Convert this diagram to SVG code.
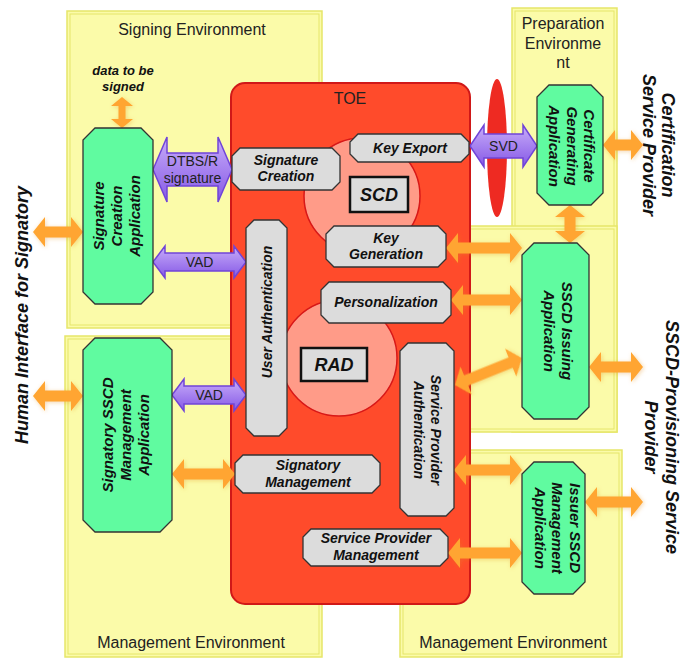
<svg xmlns="http://www.w3.org/2000/svg" width="681" height="659" viewBox="0 0 681 659">
<style>
.env{fill:#fbfba9;stroke:#e6e66a;stroke-width:1.5}
.envi{fill:none;stroke:#e6e66a;stroke-width:1}
.envt{font-family:"Liberation Sans",Arial,sans-serif;font-size:16px;fill:#222;text-anchor:middle}
.gray{fill:#dcdcdc;stroke:#333;stroke-width:1.3}
.green{fill:#60fba0;stroke:#333;stroke-width:1.3}
.nt{font-family:"Liberation Sans",Arial,sans-serif;font-size:14px;font-weight:bold;font-style:italic;fill:#111;text-anchor:middle}
.gt{font-family:"Liberation Sans",Arial,sans-serif;font-size:15px;font-weight:bold;font-style:italic;fill:#111;text-anchor:middle}
.ext{font-family:"Liberation Sans",Arial,sans-serif;font-size:18px;font-weight:bold;font-style:italic;fill:#111;text-anchor:middle}
.oa{fill:#ffa530;filter:url(#glow)}
.pa{fill:url(#pg);stroke:#7044d8;stroke-width:1.5}
.pt{font-family:"Liberation Sans",Arial,sans-serif;font-size:14px;fill:#222;text-anchor:middle}
.circ{fill:#ff9b88;stroke:#d81818;stroke-width:1.5}
.box{fill:#dcdcdc;stroke:#111;stroke-width:2.5}
</style>
<defs>
<linearGradient id="pg" x1="0" y1="0" x2="0" y2="1">
<stop offset="0" stop-color="#c8adf9"/>
<stop offset="1" stop-color="#8558e6"/>
</linearGradient>
<filter id="glow" x="-30%" y="-30%" width="160%" height="160%">
<feGaussianBlur in="SourceAlpha" stdDeviation="2"/>
<feOffset dx="1" dy="1" result="b"/>
<feFlood flood-color="#e08a20" flood-opacity="0.35"/>
<feComposite in2="b" operator="in"/>
<feMerge><feMergeNode/><feMergeNode in="SourceGraphic"/></feMerge>
</filter>
</defs>

<!-- environments -->
<g id="env-signing">
<rect class="env" x="67" y="11" width="255" height="317"/>
<rect class="envi" x="70" y="14" width="249" height="311"/>
<text class="envt" x="192" y="35">Signing Environment</text>
</g>
<g id="env-mgmt-left">
<rect class="env" x="65" y="336" width="257" height="321"/>
<rect class="envi" x="68" y="339" width="251" height="315"/>
<text class="envt" x="191" y="648">Management Environment</text>
</g>
<g id="env-mgmt-right">
<rect class="env" x="400" y="450" width="222" height="207"/>
<rect class="envi" x="403" y="453" width="216" height="201"/>
<text class="envt" x="513" y="648">Management Environment</text>
</g>
<g id="env-prep">
<rect class="env" x="512" y="8" width="105" height="424"/>
<rect class="envi" x="515" y="11" width="99" height="418"/>
<rect class="env" x="455" y="226" width="162" height="206"/>
<rect class="envi" x="458" y="229" width="156" height="200"/>
<text class="envt" x="563" y="29"><tspan x="563">Preparation</tspan><tspan x="563" dy="19.5">Environme</tspan><tspan x="563" dy="19.5">nt</tspan></text>
</g>

<!-- TOE -->
<g id="toe">
<rect x="231" y="83" width="239" height="521" rx="14" fill="#ff4b2b" stroke="#d01818" stroke-width="2"/>
<text class="envt" x="350" y="104">TOE</text>
<circle class="circ" cx="362" cy="196" r="58"/>
<circle class="circ" cx="339" cy="358" r="58"/>
</g>
<g id="scd">
<rect class="box" x="350" y="177" width="58" height="35"/>
<text class="nt" x="379" y="201" style="font-size:18px">SCD</text>
</g>
<g id="rad">
<rect class="box" x="301" y="348" width="66" height="33"/>
<text class="nt" x="334" y="371" style="font-size:18px">RAD</text>
</g>
<ellipse cx="497" cy="148" rx="10" ry="69" fill="#ee2a22"/>

<!-- connectors -->
<g id="connectors">
<polygon class="oa" points="122,97 133,106 125.5,106 125.5,119 133,119 122,128 111,119 118.5,119 118.5,106 111,106"/>
<polygon class="oa" points="33,232 45,217 45,226.5 71,226.5 71,217 83,232 71,247 71,237.5 45,237.5 45,247"/>
<polygon class="oa" points="33,396 45,381 45,390.5 71,390.5 71,381 83,396 71,411 71,401.5 45,401.5 45,411"/>
<polygon class="oa" points="172,474 184,459 184,468.5 223,468.5 223,459 235,474 223,489 223,479.5 184,479.5 184,489"/>
<polygon class="oa" points="446,248 458,233 458,242.5 510,242.5 510,233 522,248 510,263 510,253.5 458,253.5 458,263"/>
<polygon class="oa" points="451,300 463,285 463,294.5 510,294.5 510,285 522,300 510,315 510,305.5 463,305.5 463,315"/>
<polygon class="oa" transform="translate(455,385) rotate(-21.95)" points="0,0 12,-15 12,-5.5 60,-5.5 60,-15 72,0 60,15 60,5.5 12,5.5 12,15"/>
<polygon class="oa" points="454,470 466,455 466,464.5 510,464.5 510,455 522,470 510,485 510,475.5 466,475.5 466,485"/>
<polygon class="oa" points="448,553 460,538 460,547.5 510,547.5 510,538 522,553 510,568 510,558.5 460,558.5 460,568"/>
<polygon class="oa" points="570,205 585,217 575.5,217 575.5,231 585,231 570,243 555,231 564.5,231 564.5,217 555,217"/>
<polygon class="oa" points="603,145 615,130 615,139.5 631,139.5 631,130 643,145 631,160 631,150.5 615,150.5 615,160"/>
<polygon class="oa" points="589,367 601,352 601,361.5 631,361.5 631,352 643,367 631,382 631,372.5 601,372.5 601,382"/>
<polygon class="oa" points="585,502 597,487 597,496.5 631,496.5 631,487 643,502 631,517 631,507.5 597,507.5 597,517"/>
<polygon class="pa" points="153,169.5 167,137 167,153 218,153 218,137 232,169.5 218,202 218,186 167,186 167,202"/>
<text class="pt" x="192.5" y="166"><tspan x="192.5">DTBS/R</tspan><tspan x="192.5" dy="17">signature</tspan></text>
<polygon class="pa" points="153,262 165,246 165,253 234,253 234,246 246,262 234,278 234,271 165,271 165,278"/>
<text class="pt" x="199.5" y="267">VAD</text>
<polygon class="pa" points="172,395 184,379 184,386 234,386 234,379 246,395 234,411 234,404 184,404 184,411"/>
<text class="pt" x="209" y="400">VAD</text>
<polygon class="pa" points="470,146 484,125 484,134 523,134 523,125 537,146 523,167 523,158 484,158 484,167"/>
<text class="pt" x="503.5" y="151">SVD</text>
</g>
<text class="nt" x="123" y="75" style="font-size:13px"><tspan x="123">data to be</tspan><tspan x="123" dy="16">signed</tspan></text>

<!-- gray nodes -->
<g id="signature-creation">
<path class="gray" d="M240,148 H332 L340,156 V182 L332,190 H240 L232,182 V156 Z"/>
<text class="nt" x="286" y="165"><tspan x="286">Signature</tspan><tspan x="286" dy="16">Creation</tspan></text>
</g>
<g id="key-export">
<path class="gray" d="M358,134 H461 L469,142 V154 L461,162 H358 L350,154 V142 Z"/>
<text class="nt" x="410" y="153">Key Export</text>
</g>
<g id="key-generation">
<path class="gray" d="M334,226 H438 L446,234 V259 L438,267 H334 L326,259 V234 Z"/>
<text class="nt" x="386" y="243"><tspan x="386">Key</tspan><tspan x="386" dy="16">Generation</tspan></text>
</g>
<g id="personalization">
<path class="gray" d="M329,282 H443 L451,290 V315 L443,323 H329 L321,315 V290 Z"/>
<text class="nt" x="386" y="307">Personalization</text>
</g>
<g id="user-authentication">
<path class="gray" d="M254,220 H279 L287,228 V428 L279,436 H254 L246,428 V228 Z"/>
<text class="nt" transform="translate(271.5,312) rotate(-90)" x="0" y="0">User Authentication</text>
</g>
<g id="service-provider-authentication">
<path class="gray" d="M408,343 H446 L454,351 V508 L446,516 H408 L400,508 V351 Z"/>
<text class="nt" transform="translate(431,430) rotate(90)" x="0" y="0"><tspan x="0">Service Provider</tspan><tspan x="0" dy="17">Authentication</tspan></text>
</g>
<g id="signatory-management">
<path class="gray" d="M243,455 H372 L380,463 V485 L372,493 H243 L235,485 V463 Z"/>
<text class="nt" x="308" y="470"><tspan x="308">Signatory</tspan><tspan x="308" dy="17">Management</tspan></text>
</g>
<g id="service-provider-management">
<path class="gray" d="M311,529 H440 L448,537 V558 L440,566 H311 L303,558 V537 Z"/>
<text class="nt" x="376" y="543"><tspan x="376">Service Provider</tspan><tspan x="376" dy="17">Management</tspan></text>
</g>

<!-- green nodes -->
<g id="signature-creation-application">
<path class="green" d="M95,128 H141 L153,140 V292 L141,304 H95 L83,292 V140 Z"/>
<text class="gt" transform="translate(104,216) rotate(-90)" x="0" y="0"><tspan x="0">Signature</tspan><tspan x="0" dy="18">Creation</tspan><tspan x="0" dy="18">Application</tspan></text>
</g>
<g id="signatory-sscd-management-application">
<path class="green" d="M95,338 H160 L172,350 V520 L160,532 H95 L83,520 V350 Z"/>
<text class="gt" transform="translate(113,435) rotate(-90)" x="0" y="0"><tspan x="0">Signatory SSCD</tspan><tspan x="0" dy="18">Management</tspan><tspan x="0" dy="18">Application</tspan></text>
</g>
<g id="certificate-generating-application">
<path class="green" d="M549,85 H591 L603,97 V193 L591,205 H549 L537,193 V97 Z"/>
<text class="gt" transform="translate(584,146) rotate(90)" x="0" y="0"><tspan x="0">Certificate</tspan><tspan x="0" dy="17.5">Generating</tspan><tspan x="0" dy="17.5">Application</tspan></text>
</g>
<g id="sscd-issuing-application">
<path class="green" d="M534,243 H577 L589,255 V407 L577,419 H534 L522,407 V255 Z"/>
<text class="gt" transform="translate(562,331) rotate(90)" x="0" y="0"><tspan x="0">SSCD Issuing</tspan><tspan x="0" dy="18">Application</tspan></text>
</g>
<g id="issuer-sscd-management-application">
<path class="green" d="M534,462 H573 L585,474 V582 L573,594 H534 L522,582 V474 Z"/>
<text class="gt" transform="translate(569.5,528) rotate(90)" x="0" y="0"><tspan x="0">Issuer SSCD</tspan><tspan x="0" dy="17.5">Management</tspan><tspan x="0" dy="17.5">Application</tspan></text>
</g>

<!-- external actors -->
<g id="human-interface">
<text class="ext" transform="translate(28,315) rotate(-90)" x="0" y="0">Human Interface for Signatory</text>
</g>
<g id="certification-service-provider">
<text class="ext" transform="translate(662,145) rotate(90)" x="0" y="0"><tspan x="0">Certification</tspan><tspan x="0" dy="19">Service Provider</tspan></text>
</g>
<g id="sscd-provisioning-service-provider">
<text class="ext" transform="translate(666,437) rotate(90)" x="0" y="0"><tspan x="0">SSCD-Provisioning Service</tspan><tspan x="0" dy="21">Provider</tspan></text>
</g>
</svg>
